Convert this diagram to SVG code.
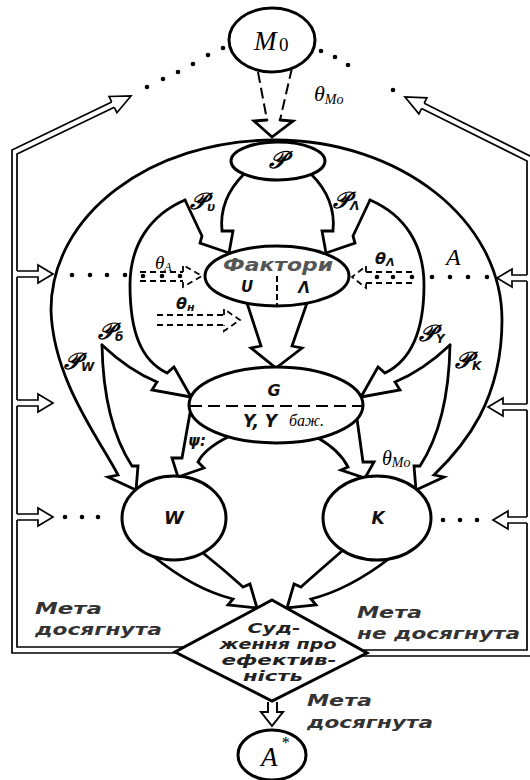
<svg xmlns="http://www.w3.org/2000/svg" width="530" height="780" viewBox="0 0 530 780">
<defs>
<style>
.ln{fill:none;stroke:#000;stroke-width:2.8;stroke-linejoin:miter;stroke-linecap:round}
.nd{fill:#fff;stroke:#000;stroke-width:3}
.dl{fill:none;stroke:#000;stroke-width:1.7}
.dsh{fill:none;stroke:#000;stroke-width:1.8;stroke-dasharray:6 4}
.dm{fill:none;stroke:#000;stroke-width:2;stroke-dasharray:11 5}
.dot{fill:#000}
.sans{font-family:"DejaVu Sans","Liberation Sans",sans-serif;font-style:oblique;font-weight:bold;fill:#111}
.lbl{font-family:"DejaVu Sans","Liberation Sans",sans-serif;font-style:oblique;font-weight:bold;fill:#333;font-size:16px}
.ser{font-family:"Liberation Serif","DejaVu Serif",serif;font-style:italic;fill:#000}
.scr{font-family:"DejaVu Serif","DejaVu Sans","Noto Sans",serif;font-style:italic;font-weight:bold;fill:#000}
</style>
</defs>
<rect width="530" height="780" fill="#fff"/>

<g id="connectors">
  <!-- feedback double lines -->
  <path class="dl" d="M177,653 L12,653 L12,150 L111.7,101.9"/>
  <path class="dl" d="M184,647 L17,647 L17,520 M17,514 L17,406 M17,400 L17,277 M17,271 L17,154 L114.3,107.3"/>
  <path class="dl" d="M111.7,101.9 L109.1,96.5 L131,96 L116.9,112.7 L114.3,107.3"/>
  <path class="dl" d="M17,271 L38,271 L38,265 L53,274 L38,283 L38,277 L17,277"/>
  <path class="dl" d="M17,400 L38,400 L38,394 L53,403 L38,412 L38,406 L17,406"/>
  <path class="dl" d="M17,514 L38,514 L38,508 L53,517 L38,526 L38,520 L17,520"/>
  <path class="dl" d="M359,656 L532,656 L532,157 L424.2,103.2"/>
  <path class="dl" d="M363,650 L527,650 L527,523 M527,517 L527,410 M527,404 L527,281 M527,275 L527,161 L421.6,108.6"/>
  <path class="dl" d="M424.2,103.2 L426.9,97.9 L405,97 L418.9,113.9 L421.6,108.6"/>
  <path class="dl" d="M527,275 L512,275 L512,269 L497,278 L512,287 L512,281 L527,281"/>
  <path class="dl" d="M527,404 L503,404 L503,398 L488,407 L503,416 L503,410 L527,410"/>
  <path class="dl" d="M527,517 L508,517 L508,511 L493,520 L508,529 L508,523 L527,523"/>
  <!-- dotted links -->
  <g class="dot">
    <circle cx="223" cy="48" r="2.3"/><circle cx="208" cy="55" r="2.3"/><circle cx="193" cy="64" r="2.3"/>
    <circle cx="178" cy="72" r="2.3"/><circle cx="163" cy="79" r="2.3"/><circle cx="147" cy="87" r="2.3"/>
    <circle cx="321" cy="51" r="2.3"/><circle cx="335" cy="57" r="2.3"/><circle cx="348" cy="65" r="2.3"/>
    <circle cx="393" cy="90" r="2.3"/>
    <circle cx="72" cy="275" r="2.3"/><circle cx="90" cy="275" r="2.3"/><circle cx="107" cy="275" r="2.3"/>
    <circle cx="125" cy="275" r="2.3"/><circle cx="143" cy="276" r="2.3"/><circle cx="162" cy="276" r="2.3"/>
    <circle cx="180" cy="276" r="2.3"/>
    <circle cx="377" cy="277" r="2.3"/><circle cx="393" cy="277" r="2.3"/><circle cx="412" cy="277" r="2.3"/>
    <circle cx="432" cy="277" r="2.3"/><circle cx="450" cy="277" r="2.3"/><circle cx="468" cy="277" r="2.3"/>
    <circle cx="487" cy="277" r="2.3"/>
    <circle cx="65" cy="517" r="2.3"/><circle cx="82" cy="517" r="2.3"/><circle cx="98" cy="517" r="2.3"/>
    <circle cx="443" cy="520" r="2.3"/><circle cx="460" cy="520" r="2.3"/><circle cx="477" cy="520" r="2.3"/>
  </g>
  <!-- M0 to P -->
  <path class="dm" d="M258,72 L267,120 M292,68 L280,120"/>
  <path class="ln" d="M267,120 L254,121 L272,137 L293,121 L280,120"/>
  <!-- theta dashed arrows -->
  <path class="dsh" d="M140,272 L183,272 M140,281 L183,281 M183,272 L183,265 L202,276 L183,287 L183,281"/>
  <path class="dsh" d="M412,272 L366,272 M412,283 L366,283 M366,272 L366,266 L352,277 L366,288 L366,283"/>
  <path class="dsh" d="M157,315 L224,315 M157,325 L224,325 M224,315 L224,309 L240,320 L224,331 L224,325"/>
  <!-- fat arrows -->
  <path class="ln" d="M136,490 L108,477 L118,475 C100,440 53,380 51,310 C51,215 150,140 275,140 C400,140 502,220 502,320 C502,400 465,445 434,475 L444,477 L416,490"/>
  <path class="ln" d="M102,345 C103,400 115,440 132,466 L138,466 L136,490"/>
  <path class="ln" d="M102,345 C120,362 140,375 157,382 L152,390 L191,397"/>
  <path class="ln" d="M185,200 C150,215 130,245 130,285 C130,330 140,360 167,373 L174,367 L191,397"/>
  <path class="ln" d="M185,200 L202,236 L200,243 L229,253"/>
  <path class="ln" d="M244,174 C226,192 220,212 222,231 L233,231 L229,253"/>
  <path class="ln" d="M370,200 L353,236 L355,243 L326,253"/>
  <path class="ln" d="M311,174 C329,192 335,212 333,231 L322,231 L326,253"/>
  <path class="ln" d="M370,200 C405,215 424,245 424,285 C424,330 412,360 385,373 L378,367 L361,397"/>
  <path class="ln" d="M450,345 C432,362 412,375 395,382 L400,390 L361,397"/>
  <path class="ln" d="M450,345 C449,400 437,440 420,466 L414,466 L416,490"/>
  <path class="ln" d="M247,303 L261,346 L251,348 L276,368 L302,348 L292,346 L307,303"/>
  <path class="ln" d="M190,413 L182,458 L172,458 L178,477 L204,468 L198,462 C203,452 212,445 228,437"/>
  <path class="ln" d="M318,438 C332,446 342,455 348,467 L341,470 L365,478 L374,462 L363,462 L357,419"/>
  <path class="ln" d="M153,556 C180,578 205,592 233,599 L228,605 L257,608 L250,584 L243,587 C232,577 218,565 203,553"/>
  <path class="ln" d="M390,558 C364,578 339,592 311,599 L316,605 L287,608 L294,584 L301,587 C312,577 326,565 342,551"/>
  <path class="dl" style="stroke-width:2" d="M268,702 L268,712 L261,712 L272,726 L283,712 L277,712 L277,702"/>
</g>

<g id="labels">
  <text class="ser" x="314" y="101" font-size="22">θ<tspan font-size="14" dy="3">Mo</tspan></text>
  <text class="ser" x="155" y="269" font-size="19">θ<tspan font-size="12" dy="2">A</tspan></text>
  <text class="sans" x="375" y="264" font-size="16">θ<tspan font-size="11" dy="2">Λ</tspan></text>
  <text class="sans" x="176" y="309" font-size="16">θ<tspan font-size="11" dy="2">н</tspan></text>
  <text class="ser" x="382" y="465" font-size="20">θ<tspan font-size="14" dy="2">Mo</tspan></text>
  <text class="ser" x="446" y="265" font-size="24">A</text>
  <text class="scr" x="190" y="209" font-size="23">𝒫<tspan class="sans" font-size="12" dy="2">υ</tspan></text>
  <text class="scr" x="333" y="208" font-size="23">𝒫<tspan class="sans" font-size="12" dy="2">Λ</tspan></text>
  <text class="scr" x="98" y="339" font-size="23">𝒫<tspan class="sans" font-size="12" dy="2">б</tspan></text>
  <text class="scr" x="64" y="369" font-size="23">𝒫<tspan class="sans" font-size="12" dy="2">W</tspan></text>
  <text class="scr" x="419" y="341" font-size="23">𝒫<tspan class="sans" font-size="12" dy="2">Y</tspan></text>
  <text class="scr" x="455" y="368" font-size="23">𝒫<tspan class="sans" font-size="12" dy="2">K</tspan></text>
  <text class="sans" x="188" y="446" font-size="15">ψ:</text>
  <text class="lbl" x="35" y="614" textLength="67" lengthAdjust="spacingAndGlyphs">Мета</text>
  <text class="lbl" x="35" y="635" textLength="127" lengthAdjust="spacingAndGlyphs">досягнута</text>
  <text class="lbl" x="357" y="618" textLength="65" lengthAdjust="spacingAndGlyphs">Мета</text>
  <text class="lbl" x="357" y="639" textLength="163" lengthAdjust="spacingAndGlyphs">не досягнута</text>
  <text class="lbl" x="307" y="706" textLength="65" lengthAdjust="spacingAndGlyphs">Мета</text>
  <text class="lbl" x="307" y="728" textLength="126" lengthAdjust="spacingAndGlyphs">досягнута</text>
</g>

<g id="node-M0">
  <ellipse class="nd" cx="272" cy="40" rx="43" ry="32"/>
  <text class="ser" x="254" y="50" font-size="27">M</text>
  <text x="279" y="51" font-size="19" font-family="Liberation Serif, serif">0</text>
</g>
<g id="node-P">
  <ellipse class="nd" cx="278" cy="161" rx="47" ry="19"/>
  <text class="scr" x="277" y="168" font-size="24" text-anchor="middle">𝒫</text>
</g>
<g id="node-factors">
  <ellipse class="nd" cx="277" cy="276" rx="72" ry="30"/>
  <text class="sans" x="223" y="271" font-size="18" style="fill:#555" textLength="110" lengthAdjust="spacingAndGlyphs">Фактори</text>
  <path fill="none" stroke="#000" stroke-width="2" stroke-dasharray="6 3" d="M277,276 L277,305"/>
  <text class="sans" x="247" y="292" font-size="15" text-anchor="middle">U</text>
  <text class="sans" x="304" y="293" font-size="15" text-anchor="middle">Λ</text>
</g>
<g id="node-G">
  <ellipse class="nd" cx="276" cy="405" rx="87" ry="38"/>
  <path fill="none" stroke="#000" stroke-width="2" stroke-dasharray="12 6" d="M190,406 L362,406"/>
  <text class="sans" x="274" y="396" font-size="16" text-anchor="middle">G</text>
  <text class="sans" x="243" y="427" font-size="17">Y, Y</text>
  <text class="ser" x="289" y="426" font-size="16">баж.</text>
</g>
<g id="node-W">
  <ellipse class="nd" cx="174" cy="518" rx="52" ry="42"/>
  <text class="sans" x="174" y="524" font-size="18" text-anchor="middle">W</text>
</g>
<g id="node-K">
  <ellipse class="nd" cx="377" cy="518" rx="54" ry="42"/>
  <text class="sans" x="378" y="524" font-size="17" text-anchor="middle">K</text>
</g>
<g id="node-decision">
  <path class="nd" d="M272,600 L367,653 L272,701 L175,652 Z"/>
  <g class="lbl" text-anchor="middle" style="fill:#222;font-size:14px">
    <text x="274" y="633" textLength="53" lengthAdjust="spacingAndGlyphs">Суд-</text>
    <text x="278" y="649" textLength="117" lengthAdjust="spacingAndGlyphs">ження про</text>
    <text x="279" y="665" textLength="115" lengthAdjust="spacingAndGlyphs">ефектив-</text>
    <text x="273" y="681" textLength="60" lengthAdjust="spacingAndGlyphs">ність</text>
  </g>
</g>
<g id="node-Astar">
  <ellipse class="nd" cx="272" cy="755" rx="34" ry="25"/>
  <text class="ser" x="261" y="766" font-size="27">A</text>
  <text class="ser" x="281" y="748" font-size="16">*</text>
</g>
</svg>
